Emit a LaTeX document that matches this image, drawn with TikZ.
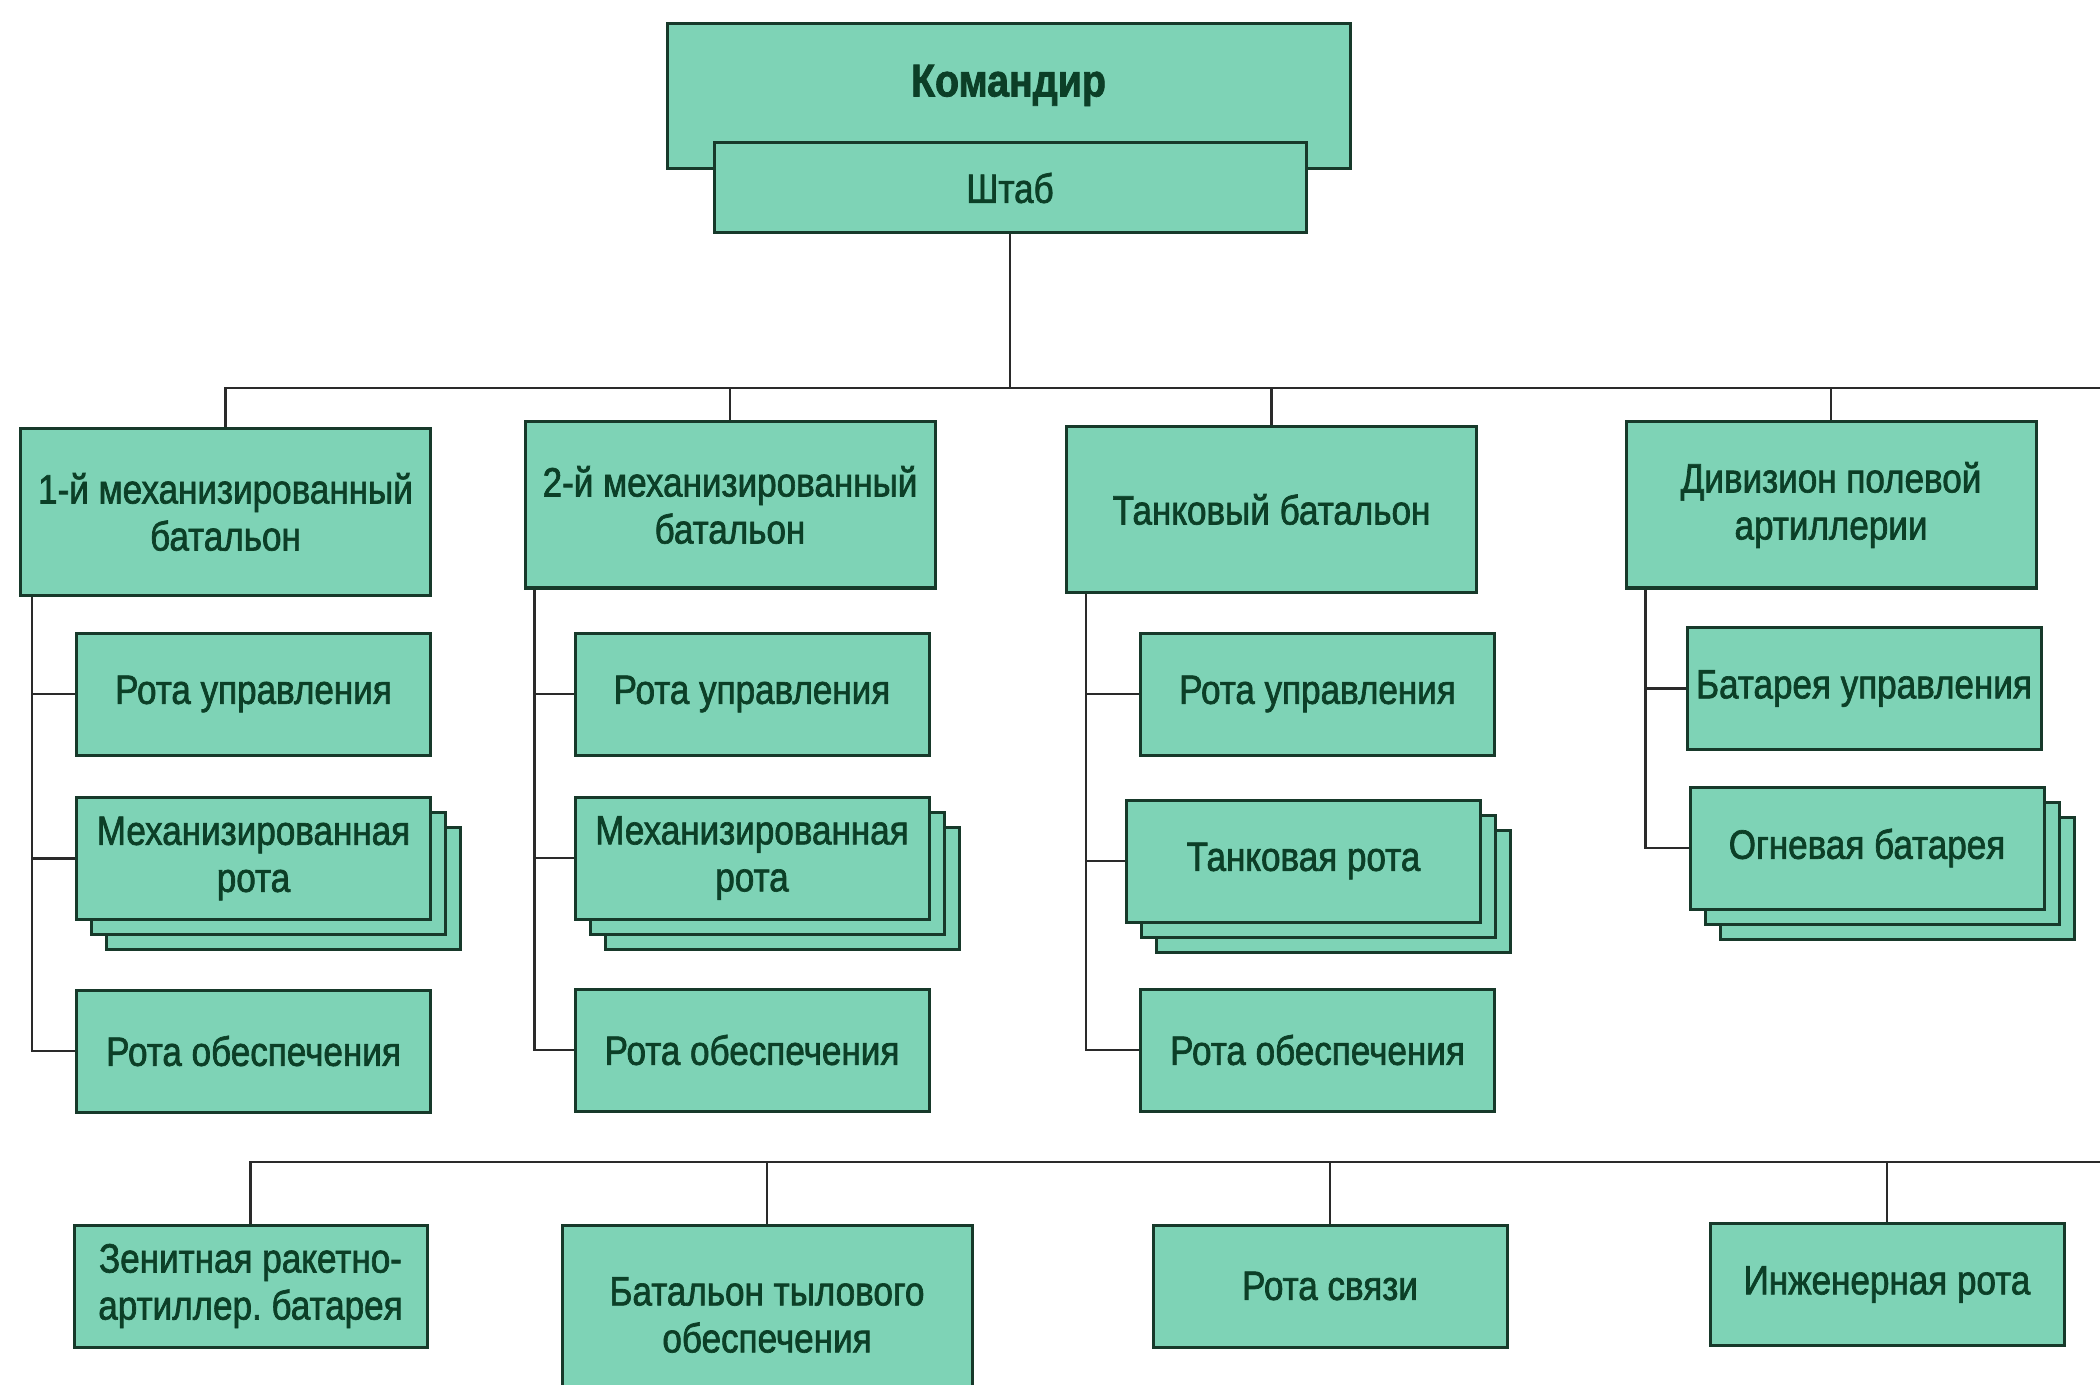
\documentclass[tikz,border=0pt]{standalone}
\usepackage{fontspec}
\setmainfont{Liberation Sans}[FakeStretch=0.855, FakeBold=1.6]
\frenchspacing
\usetikzlibrary{positioning,shadows}
\definecolor{boxfill}{HTML}{7ED3B6}
\definecolor{boxline}{HTML}{17392A}
\definecolor{label}{HTML}{0C3F27}
\definecolor{wire}{HTML}{2A2A2A}

\begin{document}
\begin{tikzpicture}[x=0.5pt, y=-0.5pt, every node/.style={font=\fontsize{20.5}{23.5}\selectfont},
      unit/.style={draw=boxline, fill=boxfill, text=label, line width=1.5pt, inner sep=0pt, align=center},
      bat/.style={unit, minimum width=205pt, minimum height=83pt},
      sub/.style={unit, minimum width=177pt, minimum height=61pt},
      many/.style={sub, double copy shadow={shadow xshift=7.5pt, shadow yshift=-7.5pt}},
      link/.style={draw=wire, line width=1.4pt}]
    \useasboundingbox (0,0) rectangle (2100,1385);
    \coordinate (topend) at (2110,388); \coordinate (lowend) at (2110,1162);
    % command
    \node[unit, minimum width=341.5pt, minimum height=72.5pt, text height=8pt, text depth=8pt, font=\fontsize{23}{26}\selectfont\bfseries] (cmd) at (1008.5,96.5) {Командир};
    \node[unit, minimum width=296pt, minimum height=45pt] (hq) at (1010,188) {Штаб};
    % battalions
    \node[bat] (bn1) at (225.5,512) {1-й механизированный\\батальон};
    \node[bat] (bn2) at (730,505) {2-й механизированный\\батальон};
    \node[bat] (tbn) at (1271.5,509.5) {Танковый батальон};
    \node[bat] (art) at (1831,505) {Дивизион полевой\\артиллерии};
    % companies
    \node[sub] (bn1a) at (253.5,694) {Рота управления};
    \node[many] (bn1b) at (253.5,858.5) {Механизированная\\рота};
    \node[sub] (bn1c) at (253.5,1051) {Рота обеспечения};
    \node[sub] (bn2a) at (752,694) {Рота управления};
    \node[many] (bn2b) at (752,858) {Механизированная\\рота};
    \node[sub] (bn2c) at (752,1050) {Рота обеспечения};
    \node[sub] (tbna) at (1317.5,694) {Рота управления};
    \node[many] (tbnb) at (1303.5,861) {Танковая рота};
    \node[sub] (tbnc) at (1317.5,1050) {Рота обеспечения};
    \node[sub] (arta) at (1864,688.5) {Батарея управления};
    \node[many] (artb) at (1867,848) {Огневая батарея};
    % support units
    \node[unit, minimum width=176.5pt, minimum height=61pt] (aa) at (250.5,1286) {Зенитная ракетно-\\артиллер. батарея};
    \node[unit, minimum width=205pt, minimum height=90pt] (rear) at (767,1315) {Батальон тылового\\обеспечения};
    \node[sub] (sig) at (1330,1286) {Рота связи};
    \node[sub] (eng) at (1887,1284.5) {Инженерная рота};
    % connectors
    \draw[link] (hq.south) -- (hq.south |- topend);
    \draw[link] (bn1.north) -- (bn1.north |- topend) -- (topend);
    \draw[link] (bn2.north) -- (bn2.north |- topend); \draw[link] (tbn.north) -- (tbn.north |- topend); \draw[link] (art.north) -- (art.north |- topend);
    \draw[link] ([xshift=6.5pt]bn1.south west) |- (bn1a.west); \draw[link] ([xshift=6.5pt]bn1.south west) |- (bn1b.west); \draw[link] ([xshift=6.5pt]bn1.south west) |- (bn1c.west);
    \draw[link] ([xshift=5.5pt]bn2.south west) |- (bn2a.west); \draw[link] ([xshift=5.5pt]bn2.south west) |- (bn2b.west); \draw[link] ([xshift=5.5pt]bn2.south west) |- (bn2c.west);
    \draw[link] ([xshift=10.5pt]tbn.south west) |- (tbna.west); \draw[link] ([xshift=10.5pt]tbn.south west) |- (tbnb.west); \draw[link] ([xshift=10.5pt]tbn.south west) |- (tbnc.west);
    \draw[link] ([xshift=10.5pt]art.south west) |- (arta.west); \draw[link] ([xshift=10.5pt]art.south west) |- (artb.west);
    \draw[link] (aa.north) -- (aa.north |- lowend) -- (lowend);
    \draw[link] (rear.north) -- (rear.north |- lowend); \draw[link] (sig.north) -- (sig.north |- lowend); \draw[link] (eng.north) -- (eng.north |- lowend);
  \end{tikzpicture}
\end{document}
